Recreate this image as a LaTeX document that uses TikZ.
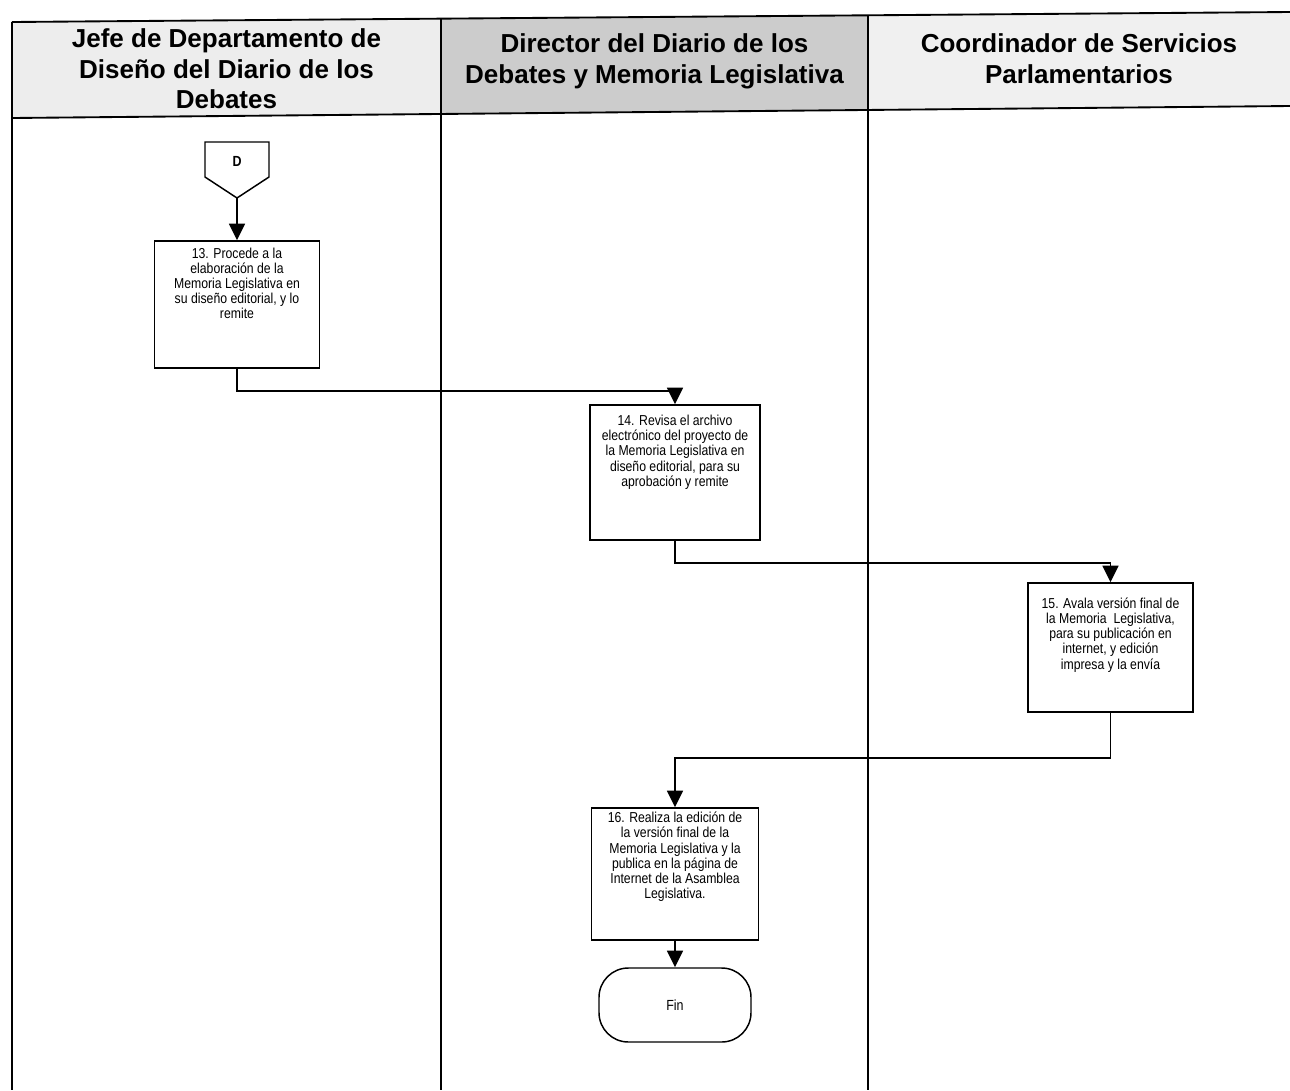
\documentclass[tikz,border=0pt]{standalone}
\usepackage{fontspec}
\setmainfont{Liberation Sans}
\newfontfamily\narrowfont[FakeStretch=0.85]{Liberation Sans}
\usetikzlibrary{arrows.meta}
\newcommand{\bxtext}[4]{\parbox[c][#2][t]{#1}{\centering\vspace*{#3}\parbox{\dimexpr#1-6pt\relax}{\centering\narrowfont\fontsize{10.8}{11.4}\selectfont #4}}}
\begin{document}
\begin{tikzpicture}[x=0.75pt,y=-0.75pt,
 lane/.style={line width=0.9pt},
 hdr/.style={line width=1.4pt},
 hdrtext/.style={font=\fontsize{19.5}{23}\selectfont\bfseries, align=center},
 procbox/.style={draw, line width=1.1pt, inner sep=0pt},
 flow/.style={line width=1.3pt, -{Triangle[length=12.5pt,width=12pt]}},
 plainline/.style={line width=1pt}
]
\useasboundingbox (0,0) rectangle (1290,1090);
% header fills
\fill[black!7] (12,22) -- (441,18.6) -- (441,113.9) -- (12,118) -- cycle;
\fill[black!20] (441,18.6) -- (868,15.3) -- (868,109.9) -- (441,113.9) -- cycle;
\fill[black!6] (868,15.3) -- (1290,12) -- (1290,106) -- (868,109.9) -- cycle;
% header borders
\draw[hdr] (12,22) -- (1290,12);
\draw[hdr] (12,118) -- (1290,106);
% lane lines
\draw[lane] (12,22) -- (12,1090);
\draw[lane] (441,18.6) -- (441,1090);
\draw[lane] (868,15.3) -- (868,1090);
% header texts
\node[hdrtext] (h1) at (226.5,69) {Jefe de Departamento de\\Diseño del Diario de los\\Debates};
\node[hdrtext] (h2) at (654.5,61.5) {Director del Diario de los\\Debates y Memoria Legislativa};
\node[hdrtext] (h3) at (1079,58.5) {Coordinador de Servicios\\Parlamentarios};
% off-page connector D
\draw[line width=1.1pt] (205,142) -- (269,142) -- (269,177) -- (237,198) -- (205,177) -- cycle;
\node[font=\narrowfont\fontsize{11}{12}\selectfont\bfseries] (D) at (237,161) {D};
\coordinate (Dtip) at (237,198);
% process boxes
\node[procbox] (b13) at (237,304.5) {\bxtext{123.75pt}{95.25pt}{5pt}{13. Procede a la\\elaboración de la\\Memoria Legislativa en\\su diseño editorial, y lo\\remite}};
\node[procbox] (b14) at (675,472.5) {\bxtext{127.5pt}{101.25pt}{7.5pt}{14. Revisa el archivo\\electrónico del proyecto de\\la Memoria Legislativa en\\diseño editorial, para su\\aprobación y remite}};
\node[procbox] (b15) at (1110.5,647.5) {\bxtext{123.75pt}{96.75pt}{11pt}{15. Avala versión final de\\la Memoria~ Legislativa,\\para su publicación en\\internet, y edición\\impresa y la envía}};
\node[procbox] (b16) at (675,874) {\bxtext{125.25pt}{99pt}{3pt}{16. Realiza la edición de\\la versión final de la\\Memoria Legislativa y la\\publica en la página de\\Internet de la Asamblea\\Legislativa.}};
\node[draw, line width=1.1pt, rounded corners=22pt, minimum width=114pt, minimum height=55.5pt, font=\narrowfont\fontsize{11}{12}\selectfont] (fin) at (675,1005) {Fin};
% connectors
\draw[flow] (Dtip) -- (b13.north);
\draw[flow] (b13.south) -- ++(0,22) -| (b14.north);
\draw[flow] (b14.south) -- ++(0,22) -| (b15.north);
\draw[flow] (b15.south) -- ++(0,45) -| (b16.north);
\draw[flow] (b16.south) -- (fin.north);
\end{tikzpicture}
\end{document}
